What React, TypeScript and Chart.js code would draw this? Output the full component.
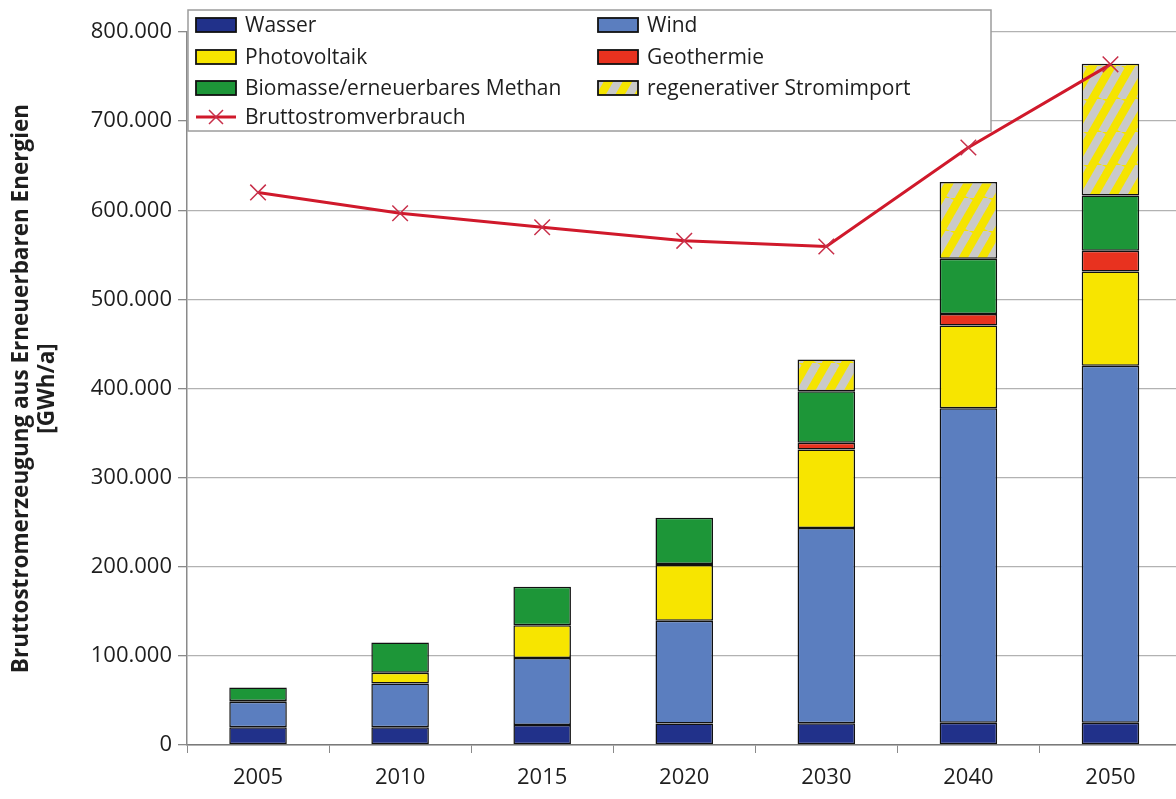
import React, { useEffect, useRef } from "react";
import { Chart, registerables } from "chart.js";

Chart.register(...registerables);

const categories = ["2005", "2010", "2015", "2020", "2030", "2040", "2050"];
const wasser = [20000, 20000, 22500, 24000, 24500, 25000, 25000];
const wind = [28500, 49000, 75000, 115500, 219000, 352900, 400400];
const photovoltaik = [1000, 12000, 37000, 62500, 88000, 92700, 105800];
const geothermie = [null, null, null, 1000, 7500, 13000, 23300];
const biomasse = [15000, 34000, 43000, 52000, 58000, 62000, 62000];
const stromimport = [null, null, null, null, 35500, 86000, 148000];
const bruttostromverbrauch = [620000, 596600, 581000, 565700, 559300, 670400, 763700];

const yTitle = ["Bruttostromerzeugung aus Erneuerbaren Energien", "[GWh/a]"];
const FONT = "'Open Sans', 'Noto Sans', sans-serif";

function makeHatch(): CanvasPattern | string {
  const W = 19, H = 33;
  const c = document.createElement("canvas");
  c.width = W;
  c.height = H;
  const g = c.getContext("2d");
  if (!g) return "#f5e400";
  g.fillStyle = "#f5e400";
  g.fillRect(0, 0, W, H);
  g.strokeStyle = "#c9c9c9";
  g.lineWidth = 8.2;
  for (let k = -2; k <= 2; k++) {
    g.beginPath();
    g.moveTo(k * W, H);
    g.lineTo(k * W + W, 0);
    g.stroke();
  }
  const p = g.createPattern(c, "repeat");
  return p || "#f5e400";
}

const legendPlugin = {
  id: "boxLegend",
  afterDraw(chart: any) {
    const ctx = chart.ctx as CanvasRenderingContext2D;
    const ds = chart.data.datasets;
    const byLabel = (l: string) => ds.find((d: any) => d.label === l);
    const bx = 188, by = 10, bw = 803, bh = 121;
    ctx.save();
    ctx.fillStyle = "#ffffff";
    ctx.fillRect(bx, by, bw, bh);
    ctx.strokeStyle = "#9c9c9c";
    ctx.lineWidth = 1.5;
    ctx.strokeRect(bx, by, bw, bh);
    const items = [
      { l: "Wasser", col: 0, row: 0 },
      { l: "Photovoltaik", col: 0, row: 1 },
      { l: "Biomasse/erneuerbares Methan", col: 0, row: 2 },
      { l: "Bruttostromverbrauch", col: 0, row: 3 },
      { l: "Wind", col: 1, row: 0 },
      { l: "Geothermie", col: 1, row: 1 },
      { l: "regenerativer Stromimport", col: 1, row: 2 },
    ];
    const rowsY = [25, 57, 88, 117];
    const colsX = [196, 598];
    ctx.font = `21px ${FONT}`;
    ctx.textBaseline = "middle";
    ctx.textAlign = "left";
    for (const it of items) {
      const d = byLabel(it.l);
      if (!d) continue;
      const x = colsX[it.col];
      const y = rowsY[it.row];
      if (d.type === "line") {
        ctx.strokeStyle = d.borderColor;
        ctx.lineWidth = 3;
        ctx.beginPath();
        ctx.moveTo(x, y);
        ctx.lineTo(x + 40, y);
        ctx.stroke();
        ctx.strokeStyle = d.pointBorderColor;
        ctx.lineWidth = 1.5;
        ctx.beginPath();
        ctx.moveTo(x + 13, y - 7);
        ctx.lineTo(x + 27, y + 7);
        ctx.moveTo(x + 27, y - 7);
        ctx.lineTo(x + 13, y + 7);
        ctx.stroke();
      } else {
        ctx.fillStyle = d.backgroundColor;
        ctx.fillRect(x, y - 7, 40, 14);
        ctx.strokeStyle = "#111111";
        ctx.lineWidth = 1.8;
        ctx.strokeRect(x, y - 7, 40, 14);
      }
      ctx.fillStyle = "#1e1e1e";
      ctx.fillText(it.l, x + 49, y + 1);
    }
    ctx.restore();
  },
};

export default function App() {
  const ref = useRef<HTMLCanvasElement | null>(null);
  useEffect(() => {
    if (!ref.current) return;
    const hatch = makeHatch();
    const barCommon = {
      type: "bar" as const,
      stack: "bars",
      borderColor: "#111111",
      borderWidth: 1.5,
      borderSkipped: false,
      barPercentage: 0.405,
      categoryPercentage: 1,
      order: 1,
    };
    const chart = new Chart(ref.current, {
      type: "bar",
      data: {
        labels: categories,
        datasets: [
          { ...barCommon, label: "Wasser", data: wasser, backgroundColor: "#21318a" },
          { ...barCommon, label: "Wind", data: wind, backgroundColor: "#5b7ebf" },
          { ...barCommon, label: "Photovoltaik", data: photovoltaik, backgroundColor: "#f7e500" },
          { ...barCommon, label: "Geothermie", data: geothermie, backgroundColor: "#e8321f" },
          { ...barCommon, label: "Biomasse/erneuerbares Methan", data: biomasse, backgroundColor: "#1d9638" },
          { ...barCommon, label: "regenerativer Stromimport", data: stromimport, backgroundColor: hatch as any },
          {
            type: "line" as const,
            label: "Bruttostromverbrauch",
            stack: "line",
            data: bruttostromverbrauch,
            borderColor: "#d0192b",
            borderWidth: 3,
            pointStyle: "crossRot",
            pointRadius: 11,
            pointBorderColor: "#c8304a",
            pointBorderWidth: 1.5,
            pointBackgroundColor: "#c8304a",
            tension: 0,
            order: 0,
          } as any,
        ] as any,
      },
      options: {
        responsive: false,
        animation: false,
        layout: { padding: { top: 32, right: 2, left: 0, bottom: 0 } },
        plugins: {
          legend: { display: false },
          tooltip: { enabled: false },
          title: { display: false },
        },
        scales: {
          x: {
            stacked: true,
            offset: true,
            grid: {
              display: true,
              drawOnChartArea: false,
              offset: true,
              color: "#8a8a8a",
              tickLength: 8,
              tickWidth: 1,
            },
            border: { display: true, color: "#7a7a7a", width: 1.5 },
            ticks: {
              color: "#1e1e1e",
              font: { family: FONT, size: 22 },
              padding: 12,
              maxRotation: 0,
            },
            afterFit: (s: any) => {
              s.height = 54;
            },
          },
          y: {
            stacked: true,
            min: 0,
            max: 800000,
            grid: {
              color: "#b2b2b2",
              lineWidth: 1.3,
              tickLength: 9,
              tickColor: "#8a8a8a",
            },
            border: { display: true, color: "#8a8a8a", width: 1.5 },
            ticks: {
              stepSize: 100000,
              color: "#1e1e1e",
              font: { family: FONT, size: 22 },
              padding: 6,
              callback: (v: any) => {
                const n = Number(v);
                if (n === 0) return "0";
                return n.toLocaleString("de-DE");
              },
            },
            title: {
              display: true,
              text: yTitle,
              color: "#1e1e1e",
              font: { family: FONT, size: 22.5, weight: "bold", lineHeight: 1.15 },
              padding: { top: 9, bottom: 0 },
            },
            afterFit: (s: any) => {
              s.width = 187;
            },
          },
        },
      },
      plugins: [legendPlugin],
    });
    return () => chart.destroy();
  }, []);
  return (
    <div
      style={{
        position: "fixed",
        left: 0,
        top: 0,
        width: 1176,
        height: 799,
        overflow: "hidden",
        background: "#ffffff",
      }}
    >
      <canvas ref={ref} width={1194} height={799} style={{ display: "block" }} />
    </div>
  );
}
